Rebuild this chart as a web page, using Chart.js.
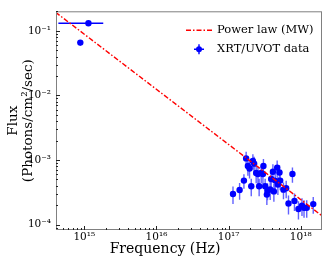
<!DOCTYPE html>
<html>
<head>
<meta charset="utf-8">
<script src="https://cdn.jsdelivr.net/npm/chart.js@4.4.1/dist/chart.umd.min.js"></script>
<style>
  html, body { margin: 0; padding: 0; background: #fff; }
</style>
</head>
<body>
<canvas id="sed" width="330" height="264"></canvas>
<script>
// values
const uvFreq = [1.14e15, 8.8e14];
const uvFreqMin = [4.37e14, 8.8e14];
const uvFreqMax = [1.83e15, 8.8e14];
const uvFlux = [0.131, 0.0658];
const uvFluxErr = [0.004, 0.0066];

const xrtFreq = [1.15e17, 1.42e17, 1.63e17, 1.75e17, 1.85e17, 1.95e17, 2.06e17, 2.17e17, 2.26e17, 2.41e17,
  2.55e17, 2.65e17, 2.83e17, 3.04e17, 2.99e17, 3.21e17, 3.46e17, 3.39e17, 3.77e17, 3.89e17,
  4.11e17, 4.24e17, 4.42e17, 4.71e17, 4.82e17, 5.07e17, 5.19e17, 5.76e17, 6.28e17, 6.76e17,
  7.67e17, 8.18e17, 9.29e17, 1.04e18, 1.11e18, 1.21e18, 1.49e18];
const xrtFlux = [2.98e-4, 3.43e-4, 4.81e-4, 1.06e-3, 8.11e-4, 7.38e-4, 3.94e-4, 9.66e-4, 8.79e-4, 6.29e-4,
  6.07e-4, 3.94e-4, 6.29e-4, 8.11e-4, 6.07e-4, 3.94e-4, 3.39e-4, 2.92e-4, 3.51e-4, 5.10e-4,
  6.58e-4, 3.27e-4, 4.81e-4, 7.64e-4, 4.18e-4, 6.43e-4, 4.81e-4, 3.48e-4, 3.67e-4, 2.13e-4,
  6.07e-4, 2.33e-4, 1.75e-4, 1.96e-4, 1.83e-4, 1.83e-4, 2.08e-4];
const xrtFluxErr = [0.9e-4, 1.0e-4, 1.2e-4, 2.8e-4, 2.4e-4, 2.2e-4, 1.2e-4, 2.6e-4, 2.5e-4, 1.9e-4,
  1.8e-4, 1.2e-4, 1.9e-4, 2.3e-4, 1.8e-4, 1.2e-4, 1.0e-4, 0.9e-4, 1.1e-4, 1.5e-4,
  2.0e-4, 1.0e-4, 1.4e-4, 2.2e-4, 1.3e-4, 1.9e-4, 1.4e-4, 1.0e-4, 1.1e-4, 0.7e-4,
  1.6e-4, 0.7e-4, 0.55e-4, 0.6e-4, 0.55e-4, 0.55e-4, 0.6e-4];

// power law (MW) end points
const lawFreq = [4e14, 2e18];
const lawFlux = [0.194, 1.35e-4];

const xTicks = [1e15, 1e16, 1e17, 1e18];
const xTickLabels = ['10¹⁵', '10¹⁶', '10¹⁷', '10¹⁸'];
const yTicks = [1e-4, 1e-3, 1e-2, 1e-1];
const yTickLabels = ['10⁻⁴', '10⁻³', '10⁻²', '10⁻¹'];
const xTitle = 'Frequency (Hz)';

const POINT_BLUE = '#0000ff';
const ERR_BLUE = 'rgba(30,30,255,0.7)';
const LAW_RED = '#ff0000';
const LAW_DASH = [5, 2, 1.5, 2];
const SERIF = '"DejaVu Serif", serif';

Chart.defaults.font.family = SERIF;
Chart.defaults.color = '#000';

const errorBars = {
  id: 'errorBars',
  beforeDatasetsDraw(chart) {
    const { ctx, scales: { x, y } } = chart;
    ctx.save();
    ctx.strokeStyle = ERR_BLUE;
    ctx.lineWidth = 1.4;
    ctx.beginPath();
    xrtFreq.forEach((f, i) => {
      const px = x.getPixelForValue(f);
      ctx.moveTo(px, y.getPixelForValue(xrtFlux[i] + xrtFluxErr[i]));
      ctx.lineTo(px, y.getPixelForValue(xrtFlux[i] - xrtFluxErr[i]));
    });
    ctx.stroke();
    ctx.strokeStyle = POINT_BLUE;
    ctx.beginPath();
    uvFreq.forEach((f, i) => {
      const px = x.getPixelForValue(f);
      const py = y.getPixelForValue(uvFlux[i]);
      ctx.moveTo(px, y.getPixelForValue(uvFlux[i] + uvFluxErr[i]));
      ctx.lineTo(px, y.getPixelForValue(uvFlux[i] - uvFluxErr[i]));
      ctx.moveTo(x.getPixelForValue(uvFreqMin[i]), py);
      ctx.lineTo(x.getPixelForValue(uvFreqMax[i]), py);
    });
    ctx.stroke();
    ctx.restore();
  }
};

const frameTicks = {
  id: 'frameTicks',
  afterDraw(chart) {
    const { ctx, chartArea: a, scales: { x, y } } = chart;
    ctx.save();
    ctx.strokeStyle = '#808080';
    ctx.lineWidth = 1;
    ctx.strokeRect(a.left + 0.5, a.top + 0.5, a.right - a.left - 1, a.bottom - a.top - 1);
    ctx.strokeStyle = '#222';
    ctx.beginPath();
    for (let n = Math.floor(Math.log10(x.min)); n <= Math.ceil(Math.log10(x.max)); n++) {
      for (let m = 1; m < 10; m++) {
        const v = m * Math.pow(10, n);
        if (v < x.min || v > x.max) continue;
        const px = Math.round(x.getPixelForValue(v)) + 0.5;
        ctx.moveTo(px, a.bottom);
        ctx.lineTo(px, a.bottom - (m === 1 ? 4 : 2));
      }
    }
    for (let n = Math.floor(Math.log10(y.min)); n <= Math.ceil(Math.log10(y.max)); n++) {
      for (let m = 1; m < 10; m++) {
        const v = m * Math.pow(10, n);
        if (v < y.min || v > y.max) continue;
        const py = Math.round(y.getPixelForValue(v)) + 0.5;
        ctx.moveTo(a.left, py);
        ctx.lineTo(a.left + (m === 1 ? 4 : 2), py);
      }
    }
    ctx.stroke();

    // x axis title, sits left of the axis centre in the original
    ctx.font = '14px ' + SERIF;
    ctx.fillStyle = '#000';
    ctx.textAlign = 'center';
    ctx.textBaseline = 'middle';
    ctx.fillText(xTitle, 165, a.bottom + 19);
    ctx.restore();
  }
};

const insetLegend = {
  id: 'insetLegend',
  afterDraw(chart) {
    const { ctx, chartArea: a } = chart;
    const ds = chart.data.datasets;
    const hx = a.right - 136, tx = a.right - 105;
    ctx.save();
    ctx.font = '11.5px ' + SERIF;
    ctx.textBaseline = 'middle';
    ctx.fillStyle = '#000';

    let ly = a.top + 19;
    ctx.strokeStyle = LAW_RED;
    ctx.lineWidth = 1.4;
    ctx.setLineDash(LAW_DASH);
    ctx.beginPath();
    ctx.moveTo(hx, ly);
    ctx.lineTo(hx + 26, ly);
    ctx.stroke();
    ctx.setLineDash([]);
    ctx.fillText(ds[0].label, tx, ly);

    ly = a.top + 38;
    const mx = hx + 13;
    ctx.strokeStyle = POINT_BLUE;
    ctx.beginPath();
    ctx.moveTo(mx - 5, ly); ctx.lineTo(mx + 5, ly);
    ctx.moveTo(mx, ly - 5); ctx.lineTo(mx, ly + 5);
    ctx.stroke();
    ctx.fillStyle = POINT_BLUE;
    ctx.beginPath();
    ctx.arc(mx, ly, 3, 0, Math.PI * 2);
    ctx.fill();
    ctx.fillStyle = '#000';
    ctx.fillText(ds[1].label, tx, ly);
    ctx.restore();
  }
};

const dataPoints = uvFreq.map((f, i) => ({ x: f, y: uvFlux[i] }))
  .concat(xrtFreq.map((f, i) => ({ x: f, y: xrtFlux[i] })));

new Chart(document.getElementById('sed'), {
  type: 'scatter',
  data: {
    datasets: [
      {
        label: 'Power law (MW)',
        type: 'line',
        data: lawFreq.map((f, i) => ({ x: f, y: lawFlux[i] })),
        borderColor: LAW_RED,
        borderWidth: 1.4,
        borderDash: LAW_DASH,
        pointRadius: 0,
        fill: false
      },
      {
        label: 'XRT/UVOT data',
        data: dataPoints,
        backgroundColor: POINT_BLUE,
        borderColor: POINT_BLUE,
        pointRadius: 3.2,
        borderWidth: 0
      }
    ]
  },
  options: {
    responsive: false,
    animation: false,
    devicePixelRatio: 1,
    layout: { padding: { top: 7, right: 8, left: 0, bottom: 0 } },
    plugins: { legend: { display: false }, tooltip: { enabled: false } },
    scales: {
      x: {
        type: 'logarithmic',
        min: 4.05e14,
        max: 1.97e18,
        afterBuildTicks: s => { s.ticks = xTicks.map(v => ({ value: v })); },
        afterFit: s => { s.height = 34; },
        grid: { display: false, drawTicks: false },
        border: { display: false },
        ticks: {
          autoSkip: false,
          maxRotation: 0,
          padding: 1,
          font: { size: 10.5 },
          callback: (v, i) => xTickLabels[i]
        }
      },
      y: {
        type: 'logarithmic',
        min: 8.26e-5,
        max: 0.201,
        afterBuildTicks: s => { s.ticks = yTicks.map(v => ({ value: v })); },
        afterFit: s => { s.width = 56; },
        grid: { display: false, drawTicks: false },
        border: { display: false },
        ticks: {
          autoSkip: false,
          padding: 5,
          font: { size: 10.5 },
          callback: (v, i) => yTickLabels[i]
        },
        title: {
          display: true,
          text: ['Flux', '(Photons/cm²/sec)'],
          font: { size: 13.5, lineHeight: 1.1 },
          padding: { top: 6, bottom: 0 }
        }
      }
    }
  },
  plugins: [errorBars, frameTicks, insetLegend]
});
</script>
</body>
</html>
